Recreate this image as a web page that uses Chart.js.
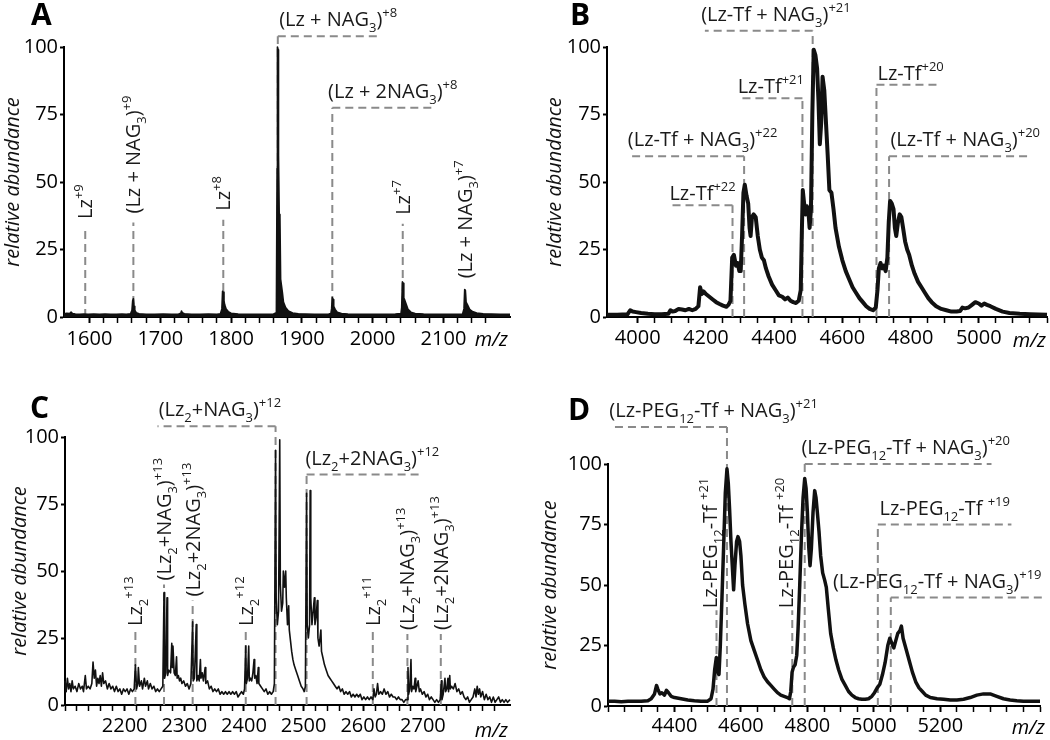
<!DOCTYPE html>
<html>
<head>
<meta charset="utf-8">
<title>Mass spectra A-D</title>
<script src="https://cdn.jsdelivr.net/npm/chart.js@4.4.1/dist/chart.umd.min.js"></script>
<style>
  html, body { margin: 0; padding: 0; background: #fff; }
  #fig { position: relative; width: 1050px; height: 740px; }
  #fig canvas { position: absolute; }
</style>
</head>
<body>
<div id="fig">
  <canvas id="panelA" width="525" height="370" style="left:0;top:0"></canvas>
  <canvas id="panelB" width="525" height="370" style="left:525px;top:0"></canvas>
  <canvas id="panelC" width="525" height="370" style="left:0;top:370px"></canvas>
  <canvas id="panelD" width="525" height="370" style="left:525px;top:370px"></canvas>
</div>
<script>
// ---- data (m/z, relative abundance) ----
var yTicks = [0, 25, 50, 75, 100];

// A: Lz + NAG3
var aTicks = [1600, 1700, 1800, 1900, 2000, 2100];
var aMz = [1564, 1568, 1572, 1574, 1576, 1580, 1586, 1592, 1598, 1606,
  1614, 1622, 1630, 1638, 1646, 1652, 1658, 1660, 1661, 1662,
  1663, 1664, 1666, 1670, 1680, 1692, 1704, 1716, 1726, 1729,
  1730, 1731, 1734, 1744, 1756, 1768, 1780, 1785, 1787, 1788,
  1789, 1790, 1791, 1793, 1796, 1800, 1810, 1825, 1840, 1852,
  1860, 1864, 1865, 1865.5, 1866.5, 1867, 1868, 1869, 1870, 1871,
  1872.5, 1874, 1877, 1881, 1887, 1895, 1905, 1918, 1930, 1938,
  1941, 1942, 1943, 1944, 1945, 1947, 1950, 1956, 1965, 1978,
  1992, 2006, 2020, 2032, 2040, 2041, 2042, 2043, 2044, 2045,
  2047, 2050, 2054, 2060, 2072, 2086, 2100, 2112, 2122, 2127,
  2129, 2130, 2131, 2132, 2134, 2137, 2141, 2147, 2156, 2168,
  2180, 2194];
var aAbund = [1.2, 1.4, 1.3, 1.8, 1.3, 1.1, 1.0, 1.1, 1.0, 1.1,
  1.0, 1.1, 1.0, 1.0, 1.1, 1.0, 1.2, 2.5, 6.0, 6.8,
  4.0, 2.5, 1.6, 1.2, 1.0, 1.0, 1.1, 1.0, 1.1, 1.4,
  2.2, 1.6, 1.2, 1.0, 1.0, 1.1, 1.0, 1.2, 3.0, 9.5,
  9.2, 6.0, 4.5, 3.0, 2.0, 1.4, 1.1, 1.0, 1.0, 1.0,
  1.1, 1.6, 55, 100, 99, 60, 38, 37, 14, 12,
  9, 5.5, 3.5, 2.2, 1.5, 1.2, 1.1, 1.0, 1.0, 1.1,
  1.3, 3.0, 7.2, 6.5, 4.0, 2.8, 1.8, 1.3, 1.1, 1.0,
  1.0, 1.0, 1.0, 1.1, 1.3, 3.5, 13, 12.5, 7.0, 6.5,
  5.0, 2.8, 1.8, 1.3, 1.1, 1.0, 1.0, 1.0, 1.0, 1.1,
  3.0, 10.2, 9.8, 5.5, 4.5, 2.8, 2.0, 1.5, 1.2, 1.1,
  1.0, 1.0];
var aPeaks = [
  {mz: 1594, top: 33, label: 'Lz^{+9}'},
  {mz: 1662, top: 35, label: '(Lz + NAG_{3})^{+9}'},
  {mz: 1789, top: 36, label: 'Lz^{+8}'},
  {mz: 1866, top: 104, end: 2006, labelMz: 1868, label: '(Lz + NAG_{3})^{+8}'},
  {mz: 1943, top: 77.5, end: 2086, labelMz: 1937, label: '(Lz + 2NAG_{3})^{+8}'},
  {mz: 2042.5, top: 34.5, label: 'Lz^{+7}'},
  {mz: 2130, top: 11, line: false, label: '(Lz + NAG_{3})^{+7}'}
];

// B: Lz-Tf + NAG3
var bTicks = [4000, 4200, 4400, 4600, 4800, 5000];
var bMz = [3910, 3940, 3970, 3978, 3985, 3995, 4010, 4030, 4050, 4070,
  4090, 4096, 4102, 4110, 4120, 4130, 4140, 4150, 4160, 4170,
  4178, 4183, 4188, 4193, 4200, 4210, 4220, 4230, 4240, 4250,
  4260, 4266, 4272, 4277, 4282, 4288, 4293, 4298, 4302, 4306,
  4310, 4314, 4319, 4324, 4328, 4331, 4335, 4340, 4346, 4352,
  4358, 4364, 4370, 4376, 4384, 4394, 4404, 4414, 4424, 4432,
  4440, 4448, 4456, 4464, 4472, 4478, 4481, 4484, 4488, 4492,
  4496, 4500, 4504, 4508, 4512, 4516, 4521, 4526, 4530, 4534,
  4538, 4542, 4547, 4552, 4557, 4562, 4568, 4574, 4580, 4590,
  4600, 4610, 4620, 4630, 4640, 4650, 4660, 4670, 4680, 4690,
  4698, 4703, 4707, 4712, 4717, 4722, 4727, 4732, 4736, 4740,
  4745, 4750, 4754, 4758, 4763, 4768, 4773, 4778, 4784, 4790,
  4796, 4804, 4812, 4822, 4832, 4842, 4852, 4862, 4875, 4890,
  4905, 4920, 4935, 4945, 4952, 4960, 4970, 4980, 4990, 5000,
  5008, 5016, 5024, 5034, 5050, 5070, 5090, 5120, 5150, 5200];
var bAbund = [0.8, 0.8, 1.0, 2.5, 2.0, 1.8, 1.5, 1.2, 1.0, 1.0,
  1.2, 2.5, 2.0, 2.2, 3.0, 2.8, 2.5, 3.0, 2.5, 3.0,
  4.0, 11, 8.5, 9.5, 8.5, 7.5, 6.5, 5.5, 4.8, 4.2,
  3.8, 4.5, 6.0, 22, 23, 19, 20, 17, 17, 30,
  46, 49, 45, 42, 33, 30, 37, 38, 37, 30,
  25, 22, 21, 18, 15, 12, 10, 8, 7.5, 6.5,
  7.2, 6.0, 5.5, 5.2, 6.0, 10, 30, 47, 42, 38,
  41, 40, 33, 40, 75, 99, 97, 92, 80, 64,
  72, 89, 84, 72, 60, 47, 46, 40, 33, 26,
  21, 17, 14, 11, 9, 7, 5.5, 4, 3, 2.5,
  3.5, 10, 18, 20, 18, 19, 17, 22, 35, 43,
  42, 40, 33, 30, 35, 38, 37, 33, 28, 25,
  23, 19, 16, 13, 11, 9, 7, 5.5, 4, 3,
  2.5, 2, 2, 2.2, 3.5, 3.2, 3.5, 4.5, 5.5, 5,
  4.2, 5, 4.5, 4, 3, 2, 1.5, 1.2, 1, 0.8];
var bPeaks = [
  {mz: 4278, top: 41.4, end: 4093, labelMz: 4093, label: 'Lz-Tf^{+22}'},
  {mz: 4312, top: 59.5, end: 3982, labelMz: 3971, label: '(Lz-Tf + NAG_{3})^{+22}'},
  {mz: 4483, top: 81, end: 4303, labelMz: 4293, label: 'Lz-Tf^{+21}'},
  {mz: 4513, top: 106, end: 4197, labelMz: 4186, label: '(Lz-Tf + NAG_{3})^{+21}'},
  {mz: 4700, top: 86, end: 4888, labelMz: 4703, label: 'Lz-Tf^{+20}'},
  {mz: 4737, top: 59.5, end: 5156, labelMz: 4741, label: '(Lz-Tf + NAG_{3})^{+20}'}
];

// C: Lz2 + NAG3
var cTicks = [2200, 2300, 2400, 2500, 2600, 2700];
var cMz = [2100, 2102, 2104, 2106, 2108, 2110, 2112, 2114, 2117, 2120,
  2123, 2126, 2129, 2131, 2134, 2136, 2139, 2142, 2145, 2147,
  2149, 2151, 2153, 2155, 2157, 2159, 2161, 2163, 2165, 2168,
  2171, 2174, 2177, 2180, 2183, 2186, 2189, 2192, 2195, 2198,
  2201, 2204, 2207, 2210, 2213, 2216, 2218, 2220, 2222, 2223,
  2225, 2228, 2230, 2233, 2235, 2238, 2240, 2243, 2246, 2249,
  2252, 2255, 2258, 2261, 2264, 2266, 2267, 2269, 2271, 2272,
  2274, 2277, 2279, 2280, 2281, 2283, 2285, 2287, 2288, 2290,
  2292, 2294, 2296, 2299, 2302, 2305, 2308, 2311, 2314, 2315,
  2317, 2320, 2321, 2323, 2325, 2327, 2328, 2330, 2332, 2335,
  2336, 2339, 2342, 2345, 2348, 2351, 2354, 2357, 2360, 2363,
  2366, 2369, 2372, 2375, 2378, 2381, 2384, 2387, 2390, 2393,
  2396, 2399, 2401, 2403, 2404, 2406, 2408, 2409, 2411, 2413,
  2415, 2417, 2418, 2420, 2422, 2424, 2425, 2428, 2431, 2434,
  2437, 2440, 2443, 2446, 2449, 2451, 2453, 2454, 2456, 2458,
  2460, 2461, 2463, 2465, 2466, 2468, 2470, 2471, 2473, 2475,
  2476, 2478, 2480, 2482, 2484, 2487, 2490, 2493, 2496, 2499,
  2501, 2503, 2505, 2506, 2508, 2510, 2511, 2512, 2514, 2516,
  2518, 2519, 2521, 2523, 2524, 2526, 2529, 2530, 2532, 2535,
  2538, 2541, 2544, 2547, 2550, 2553, 2556, 2559, 2562, 2565,
  2568, 2571, 2574, 2577, 2580, 2583, 2586, 2589, 2592, 2595,
  2598, 2601, 2604, 2607, 2610, 2613, 2616, 2618, 2620, 2622,
  2624, 2626, 2629, 2632, 2635, 2638, 2641, 2644, 2647, 2650,
  2653, 2656, 2659, 2662, 2665, 2668, 2671, 2674, 2675, 2676,
  2678, 2680, 2681, 2683, 2685, 2687, 2688, 2690, 2692, 2694,
  2696, 2699, 2702, 2705, 2708, 2711, 2714, 2717, 2720, 2723,
  2726, 2729, 2731, 2732, 2734, 2737, 2738, 2740, 2742, 2743,
  2745, 2746, 2748, 2751, 2754, 2757, 2760, 2763, 2766, 2769,
  2772, 2775, 2778, 2781, 2784, 2787, 2789, 2791, 2793, 2795,
  2797, 2800, 2803, 2806, 2809, 2812, 2815, 2818, 2821, 2824,
  2827, 2830, 2833, 2836, 2839, 2842, 2846];
var cAbund = [9, 5, 10, 6, 8, 5, 9, 6, 7, 5,
  8, 6, 7, 5, 11, 6, 7, 6, 8, 16,
  10, 13, 7, 10, 8, 11, 7, 12, 8, 9,
  6, 8, 6, 7, 5, 7, 5, 6, 4, 6,
  5, 6, 4, 6, 5, 6, 15, 6, 8, 14,
  7, 9, 6, 10, 7, 9, 6, 8, 6, 7,
  5, 6, 5, 6, 7, 42, 10, 12, 40, 11,
  13, 12, 23, 14, 22, 12, 11, 18, 10, 11,
  9, 10, 8, 9, 7, 8, 6, 8, 31, 9,
  10, 30, 9, 11, 9, 17, 10, 12, 9, 14,
  8, 9, 6, 7, 5, 6, 5, 6, 4, 5,
  4, 5, 4, 5, 4, 5, 4, 5, 3, 4,
  5, 4, 6, 22, 8, 10, 22, 9, 10, 9,
  12, 17, 10, 11, 8, 14, 8, 7, 6, 5,
  6, 4, 5, 4, 5, 8, 95, 40, 30, 35,
  99, 45, 35, 38, 50, 44, 50, 40, 30, 37,
  28, 24, 20, 17, 15, 13, 11, 9, 7, 6,
  5, 7, 79, 30, 25, 30, 80, 40, 30, 35,
  40, 30, 33, 39, 25, 22, 28, 20, 18, 15,
  13, 11, 10, 9, 8, 7, 6, 7, 5, 6,
  4, 5, 4, 5, 3, 4, 3, 4, 3, 4,
  2, 3, 2, 3, 2, 3, 2, 6, 3, 4,
  8, 4, 5, 4, 6, 4, 5, 3, 4, 3,
  3, 2, 3, 2, 2, 1, 2, 2, 14, 4,
  6, 17, 5, 7, 6, 10, 5, 7, 9, 5,
  6, 4, 5, 3, 4, 2, 3, 2, 1, 2,
  1, 2, 9, 2, 4, 10, 5, 6, 10, 5,
  11, 6, 7, 6, 8, 5, 6, 4, 5, 3,
  2, 3, 1, 2, 3, 6, 3, 7, 4, 6,
  3, 5, 2, 4, 2, 3, 1, 3, 1, 2,
  3, 1, 2, 1, 2, 1, 2];
var cPeaks = [
  {mz: 2218, top: 28, label: 'Lz_{2}^{+13}'},
  {mz: 2266, top: 45, label: '(Lz_{2}+NAG_{3})^{+13}'},
  {mz: 2314, top: 39, label: '(Lz_{2}+2NAG_{3})^{+13}'},
  {mz: 2403, top: 28, label: 'Lz_{2}^{+12}'},
  {mz: 2453, top: 104, end: 2255, labelMz: 2257, label: '(Lz_{2}+NAG_{3})^{+12}'},
  {mz: 2505, top: 86, end: 2699, labelMz: 2503, label: '(Lz_{2}+2NAG_{3})^{+12}'},
  {mz: 2616, top: 28, label: 'Lz_{2}^{+11}'},
  {mz: 2674, top: 26.5, label: '(Lz_{2}+NAG_{3})^{+13}'},
  {mz: 2730, top: 26.5, label: '(Lz_{2}+2NAG_{3})^{+13}'}
];

// D: Lz-PEG12-Tf + NAG3
var dTicks = [4400, 4600, 4800, 5000, 5200];
var dMz = [4200, 4220, 4240, 4260, 4280, 4300, 4320, 4330, 4340, 4346,
  4350, 4356, 4362, 4370, 4376, 4382, 4390, 4400, 4420, 4440,
  4460, 4480, 4500, 4510, 4516, 4521, 4526, 4530, 4534, 4538,
  4543, 4548, 4553, 4558, 4562, 4566, 4570, 4574, 4578, 4582,
  4587, 4591, 4596, 4600, 4605, 4612, 4620, 4630, 4640, 4650,
  4660, 4670, 4680, 4690, 4700, 4710, 4720, 4730, 4740, 4746,
  4750, 4754, 4758, 4763, 4768, 4772, 4777, 4782, 4787, 4792,
  4796, 4800, 4804, 4808, 4812, 4817, 4822, 4826, 4830, 4835,
  4840, 4846, 4852, 4857, 4863, 4870, 4878, 4886, 4894, 4904,
  4914, 4924, 4934, 4944, 4954, 4964, 4974, 4984, 4994, 5002,
  5010, 5018, 5026, 5034, 5042, 5048, 5054, 5060, 5066, 5072,
  5078, 5083, 5088, 5094, 5100, 5108, 5116, 5126, 5136, 5146,
  5156, 5170, 5190, 5210, 5230, 5250, 5270, 5290, 5310, 5330,
  5350, 5370, 5390, 5410, 5430, 5450, 5470, 5500];
var dAbund = [2, 2, 1.8, 2, 2, 2, 2.2, 3, 5, 8.5,
  7, 5, 5.5, 4.5, 6.5, 5.5, 4, 3.5, 3, 2.5,
  2.2, 2, 2, 3, 7, 15, 20, 14, 13, 25,
  45, 66, 88, 98, 92, 81, 68, 58, 48, 58,
  68, 70, 68, 62, 50, 42, 34, 27, 23, 19,
  15, 12, 10, 8.5, 7, 5.5, 4.5, 4, 3.5, 3,
  6, 14, 16, 17, 21, 32, 50, 70, 86, 94,
  90, 80, 66, 58, 65, 80, 89, 86, 80, 72,
  62, 55, 52, 49, 40, 30, 24, 19, 15, 11,
  8.5, 6, 4.5, 3.5, 3, 2.8, 2.8, 3, 4, 5.5,
  7.5, 9, 13, 18, 25, 28, 26, 24, 27, 30,
  31, 33, 28, 25, 22, 18, 14, 10, 7.5, 6,
  4.5, 3.5, 3, 2.8, 2.5, 2.5, 2.8, 3.5, 4.5, 5,
  5, 4, 3, 2.5, 2.2, 2, 2, 2];
var dPeaks = [
  {mz: 4558, top: 115.3, end: 4214, labelMz: 4204, label: '(Lz-PEG_{12}-Tf + NAG_{3})^{+21}'},
  {mz: 4526.5, top: 39.6, label: 'Lz-PEG_{12}-Tf ^{+21}'},
  {mz: 4754.5, top: 39.6, label: 'Lz-PEG_{12}-Tf ^{+20}'},
  {mz: 4792, top: 100, end: 5354, labelMz: 4782, label: '(Lz-PEG_{12}-Tf + NAG_{3})^{+20}'},
  {mz: 5012, top: 75, end: 5414, labelMz: 5017, label: 'Lz-PEG_{12}-Tf ^{+19}'},
  {mz: 5051, top: 44.8, end: 5514, labelMz: 4877, label: '(Lz-PEG_{12}-Tf + NAG_{3})^{+19}'}
];

// ---- drawing helpers ----
var FAMILY = '"Open Sans", "DejaVu Sans", sans-serif';
var MAIN_FONT = '20px ' + FAMILY;
var SMALL_FONT = '13px ' + FAMILY;

function parseRich(str) {
  var parts = [];
  var re = /_\{([^}]*)\}|\^\{([^}]*)\}/g;
  var last = 0, m;
  while ((m = re.exec(str)) !== null) {
    if (m.index > last) parts.push({t: str.slice(last, m.index), k: 0});
    if (m[1] !== undefined) parts.push({t: m[1], k: 1});
    else parts.push({t: m[2], k: 2});
    last = re.lastIndex;
  }
  if (last < str.length) parts.push({t: str.slice(last), k: 0});
  return parts;
}

function drawRich(ctx, str, x, y) {
  var cx = x;
  parseRich(str).forEach(function (p) {
    ctx.font = p.k ? SMALL_FONT : MAIN_FONT;
    var dy = p.k === 1 ? 6 : (p.k === 2 ? -9 : 0);
    ctx.fillText(p.t, cx, y + dy);
    cx += ctx.measureText(p.t).width;
  });
}

var peakLabels = {
  id: 'peakLabels',
  beforeDatasetsDraw: function (chart, args, opts) {
    var ctx = chart.ctx, xs = chart.scales.x, ys = chart.scales.y;
    ctx.save();
    ctx.strokeStyle = '#8a8a8a';
    ctx.lineWidth = 2;
    ctx.setLineDash([8, 5]);
    opts.marks.forEach(function (a) {
      var px = xs.getPixelForValue(a.mz), py = ys.getPixelForValue(a.top);
      ctx.beginPath();
      if (a.line !== false) {
        ctx.moveTo(px, ys.getPixelForValue(0));
        ctx.lineTo(px, py);
      }
      if (a.end !== undefined) {
        ctx.moveTo(px, py);
        ctx.lineTo(xs.getPixelForValue(a.end), py);
      }
      ctx.stroke();
    });
    ctx.setLineDash([]);
    ctx.fillStyle = '#1a1a1a';
    ctx.textAlign = 'left';
    ctx.textBaseline = 'alphabetic';
    opts.marks.forEach(function (a) {
      var px = xs.getPixelForValue(a.mz), py = ys.getPixelForValue(a.top);
      if (a.end === undefined) {
        ctx.save();
        ctx.translate(px, py - opts.rotGap);
        ctx.rotate(-Math.PI / 2);
        drawRich(ctx, a.label, 0, opts.rotShift);
        ctx.restore();
      } else {
        var lift = a.label.indexOf('_{') >= 0 ? 10 : 5;
        drawRich(ctx, a.label, xs.getPixelForValue(a.labelMz), py - lift);
      }
    });
    ctx.restore();
  },
  afterDraw: function (chart, args, opts) {
    var ctx = chart.ctx, xs = chart.scales.x;
    ctx.save();
    ctx.fillStyle = '#000';
    ctx.textAlign = 'left';
    ctx.textBaseline = 'alphabetic';
    ctx.font = 'bold 30px ' + FAMILY;
    ctx.fillText(opts.letter, opts.letterX, opts.letterY);
    ctx.font = 'italic 20px ' + FAMILY;
    ctx.textAlign = 'right';
    ctx.textBaseline = 'middle';
    ctx.fillText('m/z', opts.mzX, xs.top + opts.mzDrop);
    ctx.restore();
  }
};

function buildPanel(p) {
  var points = p.mz.map(function (m, i) { return {x: m, y: p.abund[i]}; });
  return new Chart(document.getElementById(p.id), {
    type: 'line',
    data: {
      datasets: [{
        data: points,
        borderColor: '#111',
        backgroundColor: '#111',
        borderWidth: p.lineWidth,
        borderJoinStyle: 'round',
        fill: p.fill ? 'origin' : false,
        pointRadius: 0,
        tension: 0,
        clip: 6
      }]
    },
    options: {
      responsive: false,
      animation: false,
      devicePixelRatio: 1,
      layout: { padding: p.padding },
      plugins: {
        legend: { display: false },
        tooltip: { enabled: false },
        peakLabels: {
          marks: p.marks, rotGap: p.rotGap, rotShift: p.rotShift,
          letter: p.letter, letterX: p.letterX, letterY: p.letterY,
          mzX: p.mzX, mzDrop: p.mzDrop
        }
      },
      scales: {
        x: {
          type: 'linear',
          min: p.min,
          max: p.max,
          border: { color: '#000', width: 2 },
          grid: {
            drawOnChartArea: false,
            tickLength: 6,
            tickColor: '#000',
            tickWidth: function (c) { return c.tick && p.ticks.indexOf(c.tick.value) >= 0 ? 2 : 1.5; }
          },
          ticks: {
            stepSize: p.step,
            autoSkip: false,
            maxRotation: 0,
            padding: p.tickPad,
            color: '#000',
            font: { family: FAMILY, size: 20 },
            callback: function (v) { return p.ticks.indexOf(v) >= 0 ? String(v) : ''; }
          },
          afterBuildTicks: function (s) {
            s.ticks = s.ticks.filter(function (t) { return t.value % p.step === 0; });
          },
          afterFit: function (s) { s.height = p.xHeight; }
        },
        y: {
          min: 0,
          max: 100,
          border: { color: '#000', width: 2 },
          grid: { drawOnChartArea: false, tickLength: 4, tickColor: '#000', tickWidth: 2 },
          ticks: {
            stepSize: 25,
            padding: 2,
            color: '#000',
            font: { family: FAMILY, size: 20 },
            callback: function (v) { return yTicks.indexOf(v) >= 0 ? String(v) : ''; }
          },
          title: {
            display: true,
            text: 'relative abundance',
            color: '#111',
            font: { family: FAMILY, size: 20, style: 'italic' },
            padding: { top: p.titlePad, bottom: 0 }
          },
          afterFit: function (s) { s.width = p.yWidth; }
        }
      }
    },
    plugins: [peakLabels]
  });
}

buildPanel({
  id: 'panelA', letter: 'A', letterX: 31, letterY: 25, mzX: 508, mzDrop: 23,
  mz: aMz, abund: aAbund, marks: aPeaks, ticks: aTicks,
  min: 1564, max: 2194, step: 20, lineWidth: 1.6, fill: true, tickPad: 4,
  padding: { left: 0, right: 15, top: 47, bottom: 0 }, yWidth: 64, xHeight: 53,
  titlePad: 1, rotGap: 9, rotShift: 7
});
buildPanel({
  id: 'panelB', letter: 'B', letterX: 45, letterY: 25, mzX: 521, mzDrop: 24,
  mz: bMz, abund: bAbund, marks: bPeaks, ticks: bTicks,
  min: 3910, max: 5200, step: 50, lineWidth: 4, fill: false, tickPad: 3,
  padding: { left: 0, right: 3, top: 47, bottom: 0 }, yWidth: 82, xHeight: 53,
  titlePad: 18, rotGap: 8, rotShift: 7
});
buildPanel({
  id: 'panelC', letter: 'C', letterX: 30, letterY: 48, mzX: 508, mzDrop: 26,
  mz: cMz, abund: cAbund, marks: cPeaks, ticks: cTicks,
  min: 2100, max: 2846, step: 20, lineWidth: 1.6, fill: false, tickPad: 3,
  padding: { left: 0, right: 15, top: 67, bottom: 0 }, yWidth: 65, xHeight: 35,
  titlePad: 8, rotGap: 4, rotShift: 7
});
buildPanel({
  id: 'panelD', letter: 'D', letterX: 43, letterY: 50, mzX: 520, mzDrop: 22,
  mz: dMz, abund: dAbund, marks: dPeaks, ticks: dTicks,
  min: 4200, max: 5500, step: 50, lineWidth: 3.5, fill: false, tickPad: 2,
  padding: { left: 0, right: 10, top: 94, bottom: 0 }, yWidth: 83, xHeight: 34,
  titlePad: 13, rotGap: 2, rotShift: 1
});
</script>
</body>
</html>
